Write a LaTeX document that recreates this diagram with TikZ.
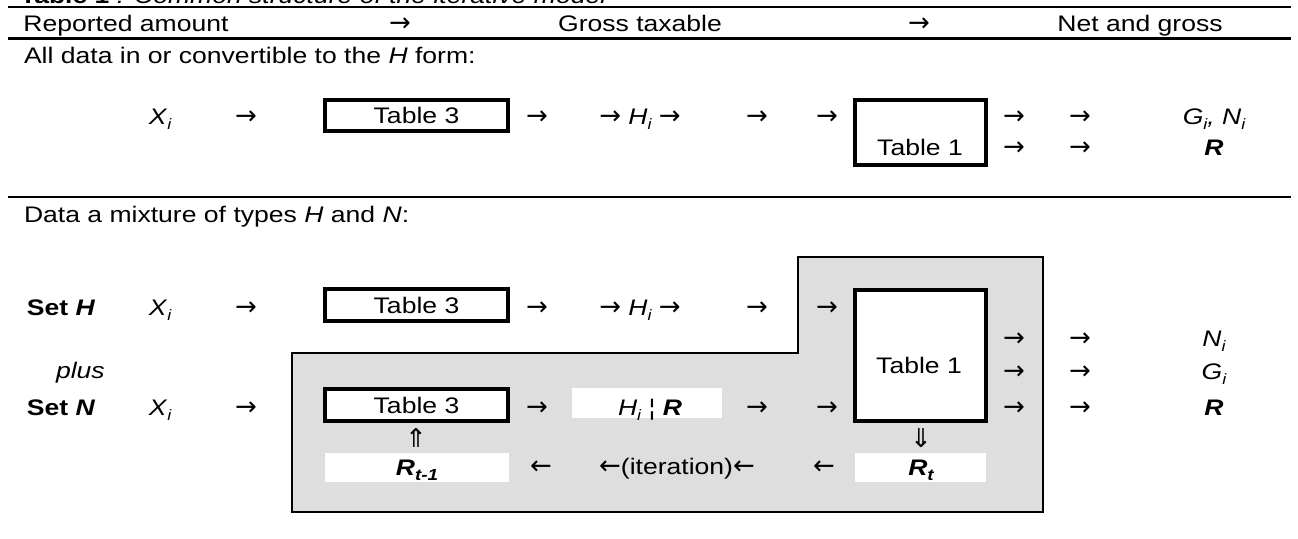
\documentclass[tikz,border=0pt]{standalone}
\usepackage{fontspec}
\setmainfont{Liberation Sans}[FakeStretch=1.18]
\newfontfamily\symfont{DejaVu Sans}
\definecolor{boxgray}{RGB}{222,222,222}
\newcommand\lsub[1]{\raisebox{-0.25em}{\fontsize{15}{15}\selectfont\itshape #1}}
\newcommand\bsub[1]{\raisebox{-0.25em}{\fontsize{16}{16}\selectfont\bfseries\itshape #1}}
\newcommand\bR{\textbf{\textit{R}}}
\newcommand\rarr{{\symfont\fontsize{26}{26}\selectfont →}}
\newcommand\larr{{\symfont\fontsize{26}{26}\selectfont ←}}
\begin{document}
\begin{tikzpicture}[x=1pt,y=-1pt,
  every node/.style={font=\fontsize{22.5}{27}\selectfont, inner sep=0pt, outer sep=0pt},
  lbl/.style={anchor=base},
  lblw/.style={anchor=base west},
  tabbox/.style={draw, line width=4pt, fill=white, minimum width=183pt, minimum height=31pt},
  bigbox/.style={draw, line width=4pt, fill=white, minimum width=131pt},
  whitebox/.style={fill=white, draw=none},
  rulel/.style={line width=2pt},
  rulethick/.style={line width=3pt},
  grayarea/.style={fill=boxgray, draw=black, line width=2pt},
]
\clip (0,0) rectangle (1298,538);
\useasboundingbox (0,0) rectangle (1298,538);

% title (cut off at the top, as in the reference)
\node[lblw] (title) at (20,4) {\textbf{Table 1} \textit{: Common structure of the iterative model}};

% rules
\coordinate (r1a) at (8,7);   \coordinate (r1b) at (1291,7);
\coordinate (r2a) at (8,38);  \coordinate (r2b) at (1291,38);
\coordinate (r3a) at (8,197); \coordinate (r3b) at (1291,197);
\draw[rulel] (r1a) -- (r1b);
\draw[rulethick] (r2a) -- (r2b);
\draw[rulel] (r3a) -- (r3b);

% header
\node[lbl] (h1) at (126,31) {Reported amount};
\node[lbl] (h2) at (400,31) {\rarr};
\node[lbl] (h3) at (640,31) {Gross taxable};
\node[lbl] (h4) at (919,31) {\rarr};
\node[lbl] (h5) at (1140,31) {Net and gross};

% section 1
\node[lblw] (s1) at (24,63) {All data in or convertible to the \textit{H} form:};
\node[lbl] (x1) at (160,124) {\textit{X}\lsub{i}};
\node[lbl] (a11) at (246,124) {\rarr};
\node[tabbox] (t3a) at (416.5,115.5) {Table 3};
\node[lbl] (a12) at (537,124) {\rarr};
\node[lbl] (h1i) at (640,124) {\rarr\ \textit{H}\lsub{i} \rarr};
\node[lbl] (a13) at (757,124) {\rarr};
\node[lbl] (a14) at (827,124) {\rarr};
\node[bigbox, minimum height=65pt] (t1a) at (920.5,132.5) {};
\node[lbl] (t1atxt) at (920,155) {Table 1};
\node[lbl] (a15) at (1014,124) {\rarr};
\node[lbl] (a16) at (1080,124) {\rarr};
\node[lbl] (o1) at (1214,124) {\textit{G}\lsub{i}\textit{,} \textit{N}\lsub{i}};
\node[lbl] (a17) at (1014,155) {\rarr};
\node[lbl] (a18) at (1080,155) {\rarr};
\node[lbl] (o2) at (1214,155) {\bR};

% section 2
\node[lblw] (s2) at (24,222) {Data a mixture of types \textit{H} and \textit{N}:};

\draw[grayarea] (292,353) -- (798,353) -- (798,257) -- (1043,257) -- (1043,512) -- (292,512) -- cycle;

% set H row
\node[lblw] (setH) at (27,315) {\textbf{Set \textit{H}}};
\node[lbl] (x2) at (160,315) {\textit{X}\lsub{i}};
\node[lbl] (a21) at (246,315) {\rarr};
\node[tabbox, minimum height=32pt] (t3b) at (416.5,305) {Table 3};
\node[lbl] (a22) at (537,315) {\rarr};
\node[lbl] (h2i) at (640,315) {\rarr\ \textit{H}\lsub{i} \rarr};
\node[lbl] (a23) at (757,315) {\rarr};
\node[lbl] (a24) at (827,315) {\rarr};

\node[bigbox, minimum height=131pt] (t1b) at (920.5,355.5) {};
\node[lbl] (t1btxt) at (919,373) {Table 1};

\node[lblw] (plus) at (56,378) {\textit{plus}};

% set N row
\node[lblw] (setN) at (27,415) {\textbf{Set \textit{N}}};
\node[lbl] (x3) at (160,415) {\textit{X}\lsub{i}};
\node[lbl] (a31) at (246,415) {\rarr};
\node[tabbox, minimum height=32pt] (t3c) at (416.5,405) {Table 3};
\node[lbl] (a32) at (537,415) {\rarr};
\node[whitebox, minimum width=150pt, minimum height=30pt] (hr) at (647,403) {};
\node[lbl] (hrtxt) at (650,415) {\textit{H}\lsub{i} ¦ \bR};
\node[lbl] (a33) at (757,415) {\rarr};
\node[lbl] (a34) at (827,415) {\rarr};

% outputs
\node[lbl] (a41) at (1014,346) {\rarr};
\node[lbl] (a42) at (1080,346) {\rarr};
\node[lbl] (oN) at (1214,346) {\textit{N}\lsub{i}};
\node[lbl] (a43) at (1014,379) {\rarr};
\node[lbl] (a44) at (1080,379) {\rarr};
\node[lbl] (oG) at (1214,379) {\textit{G}\lsub{i}};
\node[lbl] (a45) at (1014,415) {\rarr};
\node[lbl] (a46) at (1080,415) {\rarr};
\node[lbl] (oR) at (1214,415) {\bR};

% iteration row
\node[lbl] (up) at (416,447) {\symfont\fontsize{26}{26}\selectfont ⇑};
\node[lbl] (down) at (921,447) {\symfont\fontsize{26}{26}\selectfont ⇓};
\node[whitebox, minimum width=184pt, minimum height=29pt] (rt1) at (417,467.5) {};
\node[lbl] (rt1txt) at (417,475) {\bR\bsub{t-1}};
\node[lbl] (b1) at (541,474) {\larr};
\node[lbl] (iter) at (677,474) {\larr(iteration)\larr};
\node[lbl] (b2) at (824,474) {\larr};
\node[whitebox, minimum width=131pt, minimum height=29pt] (rt) at (920.5,467.5) {};
\node[lbl] (rttxt) at (921,475) {\bR\bsub{t}};
\end{tikzpicture}
\end{document}
